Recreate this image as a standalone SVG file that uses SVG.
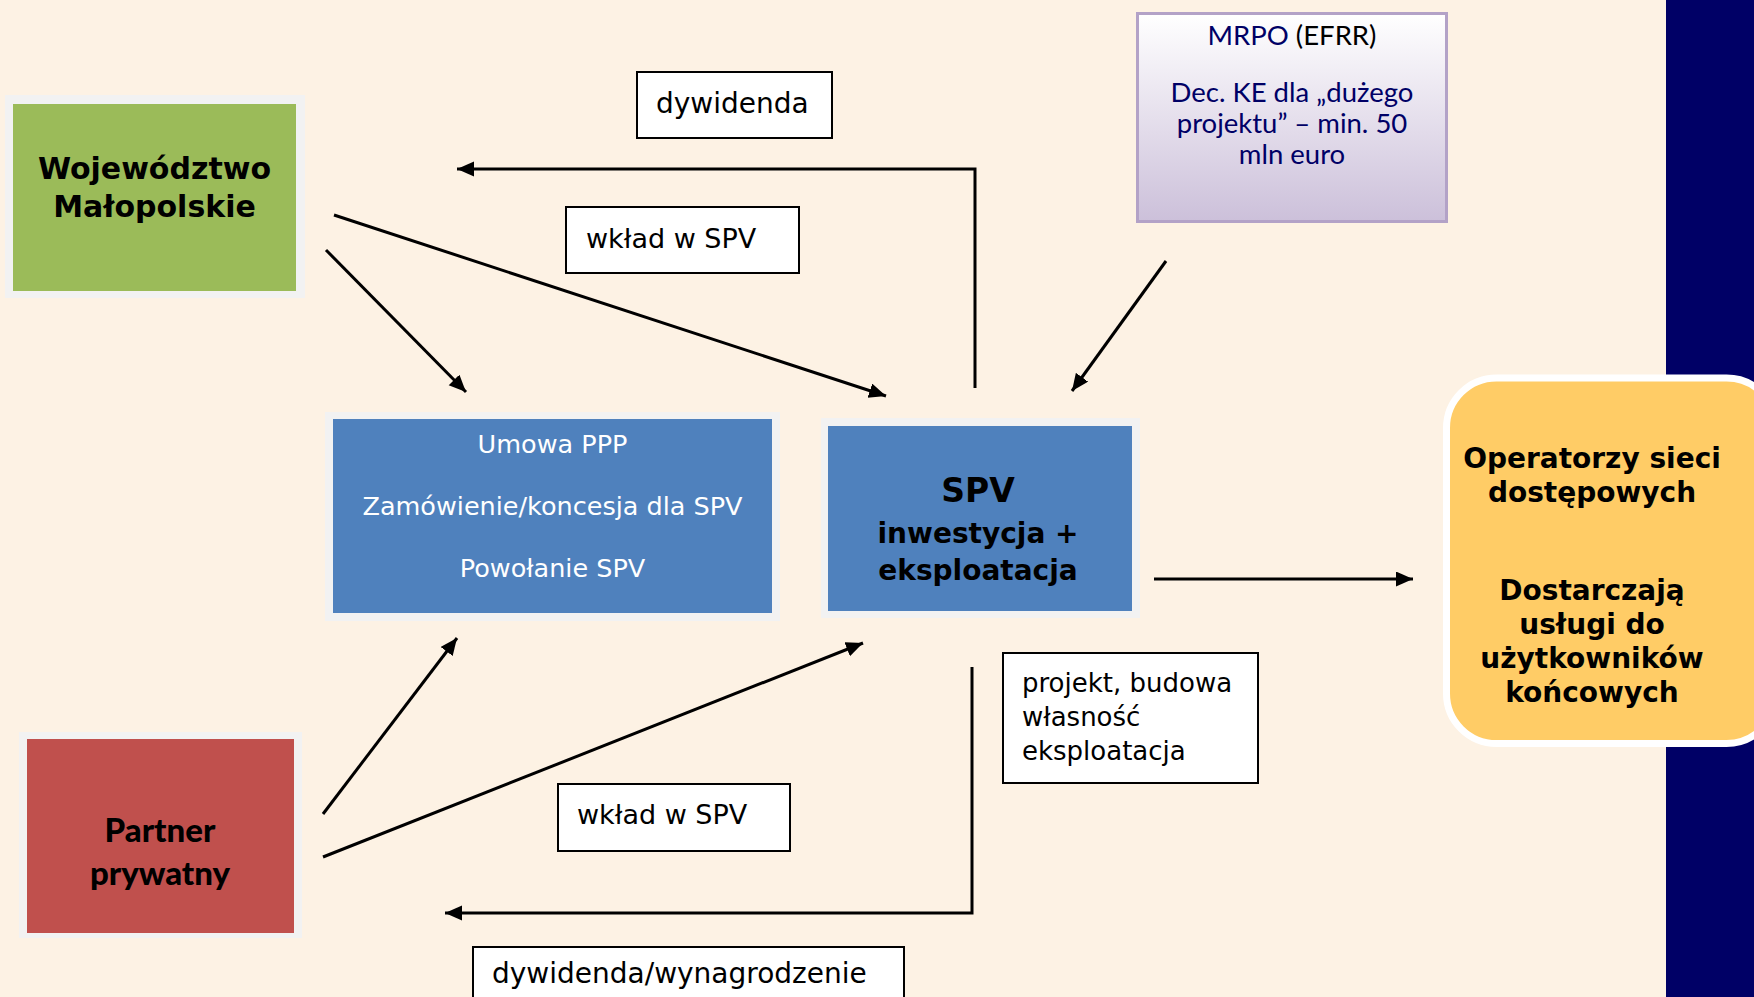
<svg xmlns="http://www.w3.org/2000/svg" width="1754" height="997" viewBox="0 0 1754 997">
<style>
.frame{fill:#f2f2f2}
.bold{font-family:"DejaVu Sans",Verdana,sans-serif;font-weight:bold;fill:#000;text-anchor:middle}
.reg{font-family:"DejaVu Sans",Verdana,sans-serif;fill:#000}
.white{font-family:"DejaVu Sans",Verdana,sans-serif;fill:#fff;text-anchor:middle;font-size:25.5px}
.cal{font-family:Lato,"Liberation Sans",sans-serif;text-anchor:middle}
.lbl{fill:#fff;stroke:#000;stroke-width:2}
.conn{fill:none;stroke:#000;stroke-width:3;marker-end:url(#arr)}
</style>
<defs>
<marker id="arr" markerUnits="userSpaceOnUse" markerWidth="18" markerHeight="16" refX="17" refY="7.5" orient="auto">
<path d="M0,0 L17,7.5 L0,15 z" fill="#000"/>
</marker>
<linearGradient id="mrpoGrad" x1="0" y1="0" x2="0" y2="1">
<stop offset="0" stop-color="#ffffff"/>
<stop offset="1" stop-color="#ccc0da"/>
</linearGradient>
</defs>
<rect x="0" y="0" width="1754" height="997" fill="#fdf2e4"/>
<rect x="1666" y="0" width="88" height="997" fill="#000066"/>

<g id="wojewodztwo">
<rect class="frame" x="5" y="95" width="300" height="203"/>
<rect x="13" y="104" width="283" height="187" fill="#9bbb59"/>
<text class="bold" font-size="30" x="154.5" y="179">Województwo</text>
<text class="bold" font-size="30" x="154.5" y="217">Małopolskie</text>
</g>

<g id="mrpo">
<rect x="1137.5" y="13.5" width="309" height="208" fill="url(#mrpoGrad)" stroke="#b3a2c7" stroke-width="3"/>
<text class="cal" font-size="27.5" x="1292" y="45"><tspan fill="#000066">MRPO</tspan><tspan fill="#000"> (EFRR)</tspan></text>
<text class="cal" font-size="27.5" fill="#000066" x="1292" y="102">Dec. KE dla „dużego</text>
<text class="cal" font-size="27.5" fill="#000066" x="1292" y="133">projektu” – min. 50</text>
<text class="cal" font-size="27.5" fill="#000066" x="1292" y="164">mln euro</text>
</g>

<g id="umowa">
<rect class="frame" x="325" y="412" width="455" height="209"/>
<rect x="333" y="419" width="439" height="194" fill="#4f81bd"/>
<text class="white" x="552.5" y="453">Umowa PPP</text>
<text class="white" x="552.5" y="515">Zamówienie/koncesja dla SPV</text>
<text class="white" x="552.5" y="577">Powołanie SPV</text>
</g>

<g id="spv">
<rect class="frame" x="821" y="418" width="319" height="200"/>
<rect x="828" y="426" width="304" height="185" fill="#4f81bd"/>
<text class="bold" font-size="33" x="978" y="502">SPV</text>
<text class="bold" font-size="28" x="978" y="543">inwestycja +</text>
<text class="bold" font-size="28" x="978" y="580">eksploatacja</text>
</g>

<g id="operatorzy">
<rect x="1446.5" y="378" width="330" height="365.5" rx="50" ry="50" fill="#ffcc66" stroke="#ffffff" stroke-width="7"/>
<text class="bold" font-size="28" x="1592" y="468">Operatorzy sieci</text>
<text class="bold" font-size="28" x="1592" y="502">dostępowych</text>
<text class="bold" font-size="28" x="1592" y="600">Dostarczają</text>
<text class="bold" font-size="28" x="1592" y="634">usługi do</text>
<text class="bold" font-size="28" x="1592" y="668">użytkowników</text>
<text class="bold" font-size="28" x="1592" y="702">końcowych</text>
</g>

<g id="partner">
<rect class="frame" x="19" y="732" width="283" height="206"/>
<rect x="27" y="739" width="267" height="194" fill="#c0504d"/>
<text class="cal" font-weight="900" font-size="33" fill="#000" x="160" y="842">Partner</text>
<text class="cal" font-weight="900" font-size="33" fill="#000" x="160" y="885">prywatny</text>
</g>

<g id="label-dywidenda">
<rect class="lbl" x="637" y="72" width="195" height="66"/>
<text class="reg" font-size="28" x="656" y="113">dywidenda</text>
</g>
<g id="label-wklad-top">
<rect class="lbl" x="566" y="207" width="233" height="66"/>
<text class="reg" font-size="27" x="586" y="248">wkład w SPV</text>
</g>
<g id="label-projekt">
<rect class="lbl" x="1003" y="653" width="255" height="130"/>
<text class="reg" font-size="26" x="1022" y="692">projekt, budowa</text>
<text class="reg" font-size="26" x="1022" y="726">własność</text>
<text class="reg" font-size="26" x="1022" y="760">eksploatacja</text>
</g>
<g id="label-wklad-bottom">
<rect class="lbl" x="558" y="784" width="232" height="67"/>
<text class="reg" font-size="27" x="577" y="824">wkład w SPV</text>
</g>
<g id="label-dywidenda-wyn">
<rect class="lbl" x="473" y="947" width="431" height="70"/>
<text class="reg" font-size="28" x="492" y="983">dywidenda/wynagrodzenie</text>
</g>

<g id="connectors">
<path class="conn" d="M326,250 L466,392"/>
<path class="conn" d="M334,215 L886,396"/>
<path class="conn" d="M975,388 V169 H457"/>
<path class="conn" d="M1166,261 L1072,391"/>
<path class="conn" d="M1154,579 H1413"/>
<path class="conn" d="M323,814 L457,638"/>
<path class="conn" d="M323,857 L863,643"/>
<path class="conn" d="M972,667 V913 H445"/>
</g>
</svg>
